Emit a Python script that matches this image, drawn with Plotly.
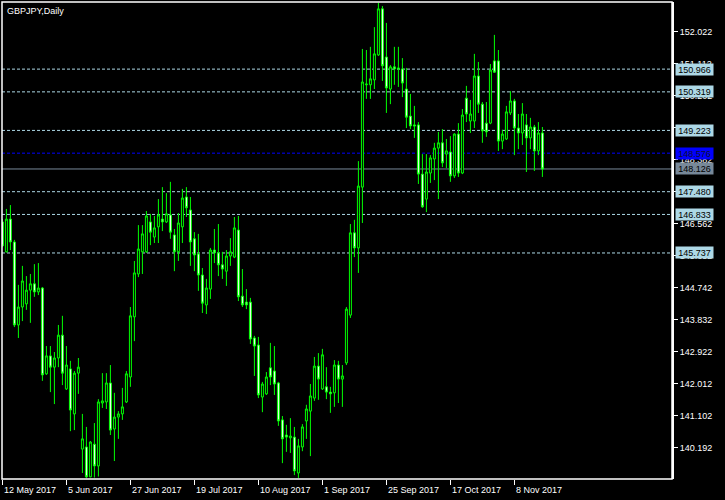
import pandas as pd
import plotly.graph_objects as go

symbol_title = "GBPJPY,Daily"

opens = [146.62, 145.77, 146.70, 146.05, 143.69, 144.20, 144.29, 144.68, 144.86, 144.63,
         144.74, 142.30, 142.81, 142.49, 142.75, 143.40, 141.87, 142.44, 141.16, 142.32,
         140.16, 140.22, 139.37, 140.30, 139.68, 141.47, 141.50, 142.04, 140.73, 141.07,
         141.16, 141.50, 142.21, 143.92, 145.14, 145.77, 145.77, 146.62, 146.19, 146.48,
         146.70, 146.62, 146.82, 146.25, 145.77, 146.48, 147.33, 146.96, 146.14, 145.71,
         145.11, 144.26, 144.71, 145.82, 145.74, 145.40, 145.22, 145.65, 145.62, 146.39,
         144.51, 144.34, 144.34, 143.32, 143.12, 141.64, 141.73, 142.47, 142.38, 142.04,
         140.99, 140.56, 140.48, 140.50, 139.48, 140.22, 140.96, 141.24, 141.61, 142.52,
         141.87, 141.93, 141.78, 141.76, 142.55, 142.15, 142.61, 143.97, 146.31, 145.88,
         147.61, 150.52, 150.52, 150.66, 151.37, 152.68, 151.31, 150.40, 151.03, 151.00,
         150.97, 150.40, 149.63, 149.38, 149.38, 147.98, 147.27, 148.01, 148.41, 148.72,
         148.87, 148.55, 148.61, 147.93, 149.12, 148.01, 150.14, 149.49, 149.49, 150.77,
         149.97, 149.43, 149.43, 151.20, 151.20, 148.92, 148.98, 149.72, 150.06, 149.29,
         149.15, 149.38, 149.01, 149.32, 148.64, 149.15]
highs = [146.70, 146.99, 147.10, 146.11, 144.83, 145.37, 145.08, 145.14, 145.42, 145.45,
         144.77, 143.09, 143.09, 142.92, 143.69, 143.95, 143.09, 142.67, 142.38, 142.75,
         141.16, 140.79, 140.39, 140.90, 141.58, 142.32, 142.32, 142.55, 141.76, 141.24,
         141.90, 142.38, 144.20, 145.51, 146.53, 146.53, 146.93, 146.85, 146.79, 147.27,
         147.61, 147.44, 147.76, 146.42, 146.87, 147.56, 147.61, 147.33, 146.33, 146.28,
         145.31, 145.00, 145.88, 146.42, 146.56, 145.77, 145.82, 146.16, 146.76, 146.79,
         145.28, 144.71, 144.46, 143.38, 143.35, 142.07, 142.35, 143.18, 143.09, 142.07,
         141.10, 140.85, 141.04, 140.79, 140.45, 140.87, 141.42, 142.01, 142.78, 142.89,
         143.01, 142.49, 141.93, 142.69, 142.67, 142.55, 144.20, 146.56, 146.68, 148.35,
         151.54, 151.51, 151.60, 152.16, 152.85, 152.76, 152.28, 151.08, 151.60, 151.60,
         151.28, 151.00, 150.26, 149.92, 149.46, 148.55, 148.55, 148.52, 148.87, 149.18,
         149.26, 148.98, 149.06, 149.14, 149.43, 149.83, 150.49, 150.09, 151.40, 151.17,
         150.03, 150.03, 151.11, 151.94, 151.51, 149.24, 149.92, 150.34, 150.12, 149.69,
         150.00, 149.69, 149.58, 149.38, 149.46, 149.32]
lows = [145.90, 145.75, 145.82, 143.63, 143.32, 143.80, 144.12, 143.75, 144.49, 144.54,
        142.10, 142.27, 141.78, 141.44, 142.49, 141.98, 141.84, 140.67, 140.70, 141.73,
        139.48, 139.34, 139.36, 139.35, 139.38, 141.33, 141.30, 140.56, 139.82, 140.45,
        140.99, 141.47, 141.93, 143.23, 145.05, 145.14, 145.74, 145.96, 146.02, 146.02,
        146.36, 146.59, 146.14, 145.22, 145.51, 146.02, 146.76, 145.37, 145.22, 144.66,
        144.03, 144.00, 144.43, 145.45, 145.08, 145.00, 144.80, 145.37, 145.59, 144.37,
        144.20, 144.14, 143.15, 142.24, 141.61, 141.21, 141.70, 141.98, 141.70, 140.82,
        139.76, 140.08, 140.05, 139.42, 139.34, 140.10, 140.45, 139.96, 141.53, 141.56,
        141.84, 141.58, 141.19, 141.36, 141.47, 141.36, 142.55, 143.89, 145.62, 145.17,
        146.59, 150.12, 150.12, 150.40, 151.34, 150.63, 149.72, 149.97, 150.52, 150.46,
        150.17, 149.29, 149.26, 149.01, 147.70, 147.02, 146.90, 147.73, 147.81, 147.27,
        148.18, 148.15, 147.76, 147.87, 147.90, 147.98, 149.46, 149.15, 149.29, 149.72,
        148.87, 149.04, 149.40, 150.86, 148.64, 148.69, 148.95, 149.66, 148.52, 148.69,
        148.81, 148.04, 148.69, 148.07, 148.52, 147.90]
closes = [145.94, 146.70, 146.05, 143.69, 144.20, 144.94, 144.68, 144.86, 144.63, 144.74,
          142.27, 142.81, 142.49, 142.75, 143.40, 142.32, 142.55, 141.27, 142.32, 142.49,
          140.45, 139.37, 140.36, 139.68, 141.50, 141.53, 142.04, 140.70, 141.07, 141.16,
          141.36, 142.30, 143.95, 145.17, 145.85, 146.28, 146.79, 146.33, 146.45, 146.82,
          146.62, 146.85, 146.33, 145.77, 146.59, 147.30, 147.02, 146.05, 145.68, 145.11,
          144.31, 144.74, 145.82, 145.74, 145.40, 145.28, 145.65, 145.77, 146.45, 144.49,
          144.26, 144.26, 143.29, 143.09, 141.70, 142.01, 142.21, 142.21, 142.01, 140.96,
          140.45, 140.50, 140.53, 139.54, 140.25, 140.79, 141.30, 141.67, 142.52, 142.15,
          142.84, 141.78, 141.73, 142.55, 142.15, 142.24, 144.14, 146.31, 145.88, 147.64,
          150.60, 150.54, 150.69, 151.40, 152.68, 151.06, 150.43, 151.03, 150.97, 150.97,
          150.57, 149.60, 149.35, 149.35, 147.98, 147.05, 148.04, 148.44, 148.72, 148.87,
          148.30, 148.64, 147.93, 149.12, 148.01, 149.66, 149.69, 149.69, 150.77, 149.97,
          149.21, 149.18, 150.94, 150.88, 148.92, 149.12, 149.75, 150.06, 149.29, 149.15,
          149.69, 149.01, 149.32, 148.64, 149.15, 148.126]

first_date = "2017-05-12"

date_labels = ["12 May 2017", "5 Jun 2017", "27 Jun 2017", "19 Jul 2017", "10 Aug 2017",
               "1 Sep 2017", "25 Sep 2017", "17 Oct 2017", "8 Nov 2017"]

price_ticks = [140.192, 141.102, 142.012, 142.922, 143.832, 144.742, 145.652,
               146.562, 147.472, 148.382, 149.292, 150.202, 151.112, 152.022]

level_lines = [150.966, 150.319, 149.223, 147.480, 146.833, 145.737]
blue_level = 148.576
bid_level = 148.126

dates = [d.strftime("%Y-%m-%d") for d in pd.bdate_range(first_date, periods=len(opens))]
label_dates = [pd.to_datetime(s).strftime("%Y-%m-%d") for s in date_labels]

LIME = "#00FF00"
LBLUE = "#ADD8E6"
FONT = "Liberation Sans"

fig = go.Figure()
fig.add_trace(go.Candlestick(
    x=dates, open=opens, high=highs, low=lows, close=closes,
    increasing=dict(line=dict(color=LIME, width=1), fillcolor="black"),
    decreasing=dict(line=dict(color=LIME, width=1), fillcolor="white"),
    whiskerwidth=0, hoverinfo="skip", showlegend=False,
))

shapes = []
for lv in level_lines:
    shapes.append(dict(type="line", xref="paper", x0=0, x1=1, yref="y", y0=lv, y1=lv,
                       line=dict(color=LBLUE, width=1, dash="3px,2px"), layer="below"))
shapes.append(dict(type="line", xref="paper", x0=0, x1=1, yref="y", y0=blue_level, y1=blue_level,
                   line=dict(color="#0000FF", width=1, dash="3px,2px"), layer="below"))
shapes.append(dict(type="line", xref="paper", x0=0, x1=1, yref="y", y0=bid_level, y1=bid_level,
                   line=dict(color="#778899", width=1), layer="below"))
shapes.append(dict(type="rect", xref="paper", yref="paper", x0=0, x1=1, y0=0, y1=1,
                   line=dict(color="white", width=1.5), layer="above"))

annotations = [dict(text=symbol_title, xref="paper", yref="paper", x=0, y=1, xshift=3, yshift=-2,
                    xanchor="left", yanchor="top", showarrow=False,
                    font=dict(family=FONT, size=9, color="white"))]
for d, lab in zip(label_dates, date_labels):
    annotations.append(dict(text=lab, xref="x", yref="paper", x=d, y=0, yshift=-4,
                            xanchor="left", yanchor="top", showarrow=False,
                            font=dict(family=FONT, size=9, color="white")))


def price_label(v, bg, fg):
    return dict(text=f"{v:.3f}", xref="paper", yref="y", x=1, y=v, xshift=3,
                xanchor="left", yanchor="middle", showarrow=False, bgcolor=bg,
                width=37, height=11, align="center", borderpad=0,
                font=dict(family=FONT, size=9, color=fg))


for lv in level_lines:
    annotations.append(price_label(lv, LBLUE, "black"))
annotations.append(price_label(blue_level, "#0000FF", "#101030"))
annotations.append(price_label(bid_level, "#778899", "black"))

fig.update_layout(
    width=725, height=500,
    margin=dict(l=2, r=53, t=2, b=21, autoexpand=False),
    paper_bgcolor="black", plot_bgcolor="black",
    showlegend=False,
    shapes=shapes, annotations=annotations,
    xaxis=dict(type="category", range=[-0.1, 167.4], showgrid=False, zeroline=False,
               automargin=False,
               rangeslider=dict(visible=False), tickvals=label_dates,
               ticktext=["" for _ in label_dates], ticks="outside", ticklen=5,
               tickcolor="white", showline=False),
    yaxis=dict(side="right", range=[139.309, 152.875], showgrid=False, zeroline=False,
               automargin=False,
               tickvals=price_ticks, ticktext=[f"{v:.3f}" for v in price_ticks],
               ticks="outside", ticklen=4, tickcolor="white", showline=True,
               linecolor="white", linewidth=2,
               tickfont=dict(family=FONT, size=9, color="white")),
)

fig.write_html("out.html", config={"displayModeBar": False},
               post_script="document.body.style.margin='0';document.body.style.background='black';")
